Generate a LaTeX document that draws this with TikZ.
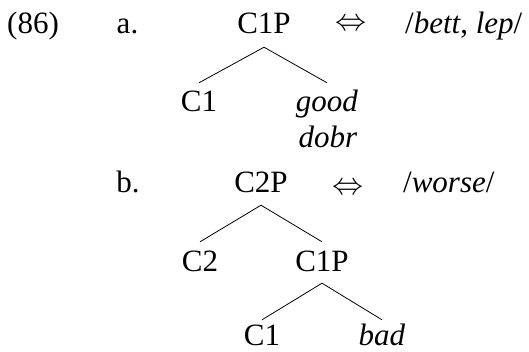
\RequirePackage{fix-cm}
\documentclass[tikz,border=0pt]{standalone}
\usepackage{fontspec}
\setmainfont{Liberation Serif}
\begin{document}
\begin{tikzpicture}[x=1pt,y=-1pt,
  every node/.style={inner sep=0pt, anchor=base, font=\fontsize{31}{37}\selectfont},
  tn/.style={text height=21pt, text depth=0pt},
  iff/.style={anchor=center},
  branch/.style={line width=0.8pt}]
\useasboundingbox (0,0) rectangle (529,352);
% (86) a.
\node[anchor=base west] (ex) at (7,34) {(86)};
\node (la) at (127.5,34) {a.};
\node[tn] (ac1p) at (264,34) {C1P};
\node[iff] (aeq) at (351,25) {$\Leftrightarrow$};
\node[anchor=base west] (aexp) at (405,34) {/\textit{bett}, \textit{lep}/};
\node[tn] (ac1) at (199,112) {C1};
\node[tn] (agood) at (327,112) {\textit{good}};
\node (adobr) at (328,148) {\textit{dobr}};
\draw[branch] ([yshift=-13pt]ac1p.south) -- ([yshift=8pt]ac1.north);
\draw[branch] ([yshift=-13pt]ac1p.south) -- ([yshift=8pt]agood.north);
% b.
\node (lb) at (128,193) {b.};
\node[tn] (bc2p) at (261,193) {C2P};
\node[iff] (beq) at (348,189) {$\Leftrightarrow$};
\node[anchor=base west] (bexp) at (403,193) {/\textit{worse}/};
\node[tn] (bc2) at (200,271) {C2};
\node[tn] (bc1p) at (322,271) {C1P};
\node[tn] (bc1) at (262,345) {C1};
\node[tn] (bbad) at (382,345) {\textit{bad}};
\draw[branch] ([yshift=-12pt]bc2p.south) -- ([yshift=8pt]bc2.north);
\draw[branch] ([yshift=-12pt]bc2p.south) -- ([yshift=8pt]bc1p.north);
\draw[branch] ([yshift=-12pt]bc1p.south) -- ([yshift=4pt]bc1.north);
\draw[branch] ([yshift=-12pt]bc1p.south) -- ([yshift=4pt]bbad.north);
\end{tikzpicture}
\end{document}
